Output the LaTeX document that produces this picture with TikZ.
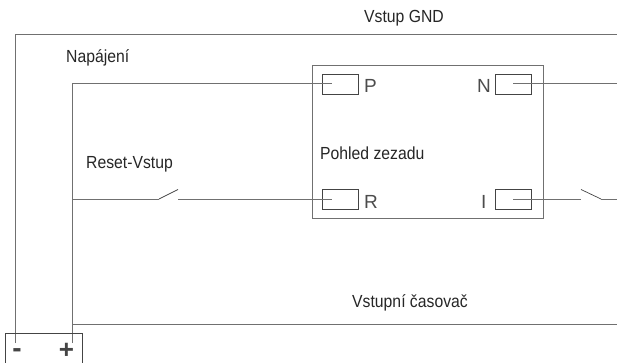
\documentclass[tikz,border=0pt]{standalone}
\usepackage{fontspec}
\usetikzlibrary{positioning}
\setmainfont[FakeStretch=0.9]{Liberation Sans}
\newfontfamily\pinfont{Liberation Sans}
\definecolor{wiregray}{HTML}{707070}
\definecolor{thingray}{HTML}{444444}
\tikzset{
	wire/.style={color=wiregray, line width=1},
	thin wire/.style={color=thingray, line width=0.7},
	term/.style={draw=thingray, line width=0.7, minimum width=36, minimum height=20, inner sep=0},
	lbl/.style={inner sep=0, text=black!85, font=\fontsize{17.5}{18}\selectfont},
	pin/.style={inner sep=0, text=black!70, font=\pinfont\fontsize{19}{19}\selectfont}
}

\begin{document}
\begin{tikzpicture}[x=1pt, y=-1pt]
		\useasboundingbox (0,0) rectangle (617,363);
		% frame and terminals
		\node[draw=wiregray, line width=0.9, minimum width=230.5, minimum height=153, inner sep=0] (unit) at (427.75,142) {};
		\node[term] (P) at (340.5,84) {};
		\node[term] (N) at (513,84) {};
		\node[term] (R) at (340.5,199.5) {};
		\node[term] (I) at (513,199.5) {};
		\node[pin, right=5pt of P.east, yshift=-2pt] (Plabel) {P};
		\node[pin, left=3.5pt of N.west, yshift=-2pt] (Nlabel) {N};
		\node[pin, right=5pt of R.east, yshift=-2pt] (Rlabel) {R};
		\node[pin, left=8pt of I.west, yshift=-2pt] (Ilabel) {I};
		\node[lbl] (gnd) at (404,18.5) {Vstup GND};
		\node[lbl, anchor=west] (supply) at (66,58) {Napájení};
		\node[lbl, anchor=west] (reset) at (86,164) {Reset-Vstup};
		\node[lbl, anchor=west] (view) at (320,153) {Pohled zezadu};
		\node[lbl] (timer) at (410,303) {Vstupní časovač};
		% wire ends
		\coordinate (neg) at (15,343);
		\coordinate (pos) at (72,343);
		\coordinate (gndleft) at (15,35);
		\coordinate (gndright) at (617,35);
		\coordinate (posup) at (72,83.5);
		\coordinate (Pin) at (332,83.5);
		\coordinate (Nin) at (513,84);
		\coordinate (Nout) at (617,84);
		\coordinate (posmid) at (72,199);
		\coordinate (Rin) at (332,199);
		\coordinate (Iin) at (513,199);
		\coordinate (Iout) at (617,199);
		\coordinate (posint) at (72,324);
		\coordinate (intout) at (617,324);
		% wires
		\draw[wire] (neg) -- (gndleft) -- (gndright);
		\draw[wire] (pos) -- (posup) -- (Pin);
		\draw[wire] (Nin) -- (Nout);
		\draw[wire] (posint) -- (intout);
		% reset switch
		\coordinate (sw1a) at (159,199);
		\coordinate (sw1b) at (178,189.5);
		\coordinate (sw1c) at (178,199);
		\draw[wire] (posmid) -- (sw1a);
		\draw[thin wire] (sw1a) -- (sw1b);
		\draw[wire] (sw1c) -- (Rin);
		% timer switch
		\coordinate (sw2a) at (581,199);
		\coordinate (sw2b) at (581,189.5);
		\coordinate (sw2c) at (601,199);
		\draw[wire] (Iin) -- (sw2a);
		\draw[thin wire] (sw2b) -- (sw2c);
		\draw[wire] (sw2c) -- (Iout);
		% battery
		\coordinate (batbl) at (5,363);
		\coordinate (battl) at (5,333.5);
		\coordinate (battr) at (82,333.5);
		\coordinate (batbr) at (82,363);
		\draw[thin wire] (batbl) -- (battl) -- (battr) -- (batbr);
		\node[inner sep=0, text=thingray, font=\pinfont\bfseries\fontsize{28}{28}\selectfont] (minus) at (17,353) {-};
		\node[inner sep=0, text=thingray, font=\pinfont\bfseries\fontsize{26}{26}\selectfont] (plus) at (66.5,350.5) {+};
	\end{tikzpicture}
\end{document}
